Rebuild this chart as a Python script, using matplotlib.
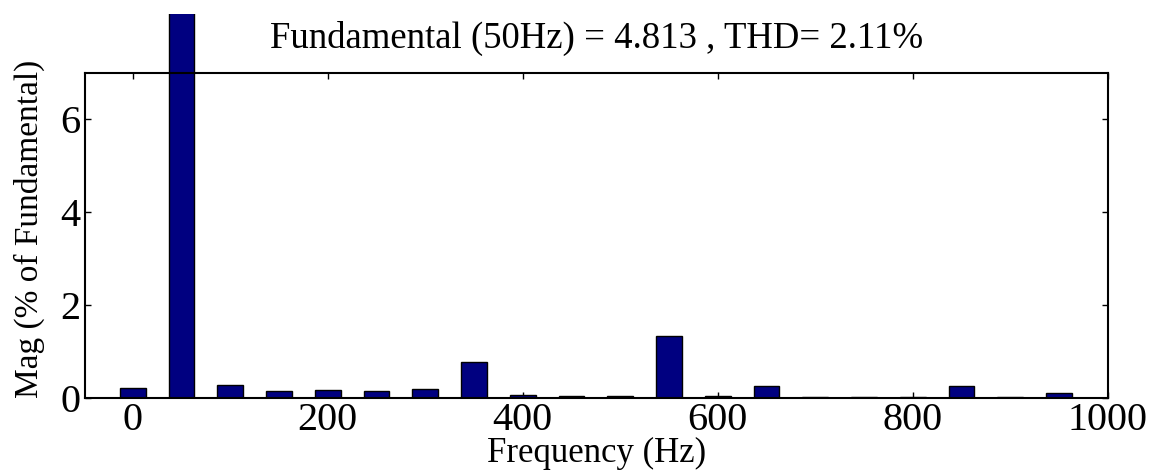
import matplotlib
matplotlib.use('Agg')
import matplotlib.pyplot as plt
from matplotlib.patches import Rectangle

plt.rcParams['font.family'] = ['Liberation Serif', 'DejaVu Serif']

#------------------DATA------------------#
# harmonic frequencies (Hz) and magnitude (% of fundamental)
freqs = [0, 50, 100, 150, 200, 250, 300, 350, 400, 450,
         500, 550, 600, 650, 700, 750, 800, 850, 900, 950]
mags = [0.21, 100.0, 0.29, 0.16, 0.18, 0.16, 0.20, 0.77, 0.06, 0.05,
        0.05, 1.33, 0.05, 0.27, 0.03, 0.03, 0.03, 0.27, 0.03, 0.11]

x_ticks = [0, 200, 400, 600, 800, 1000]
y_ticks = [0, 2, 4, 6]
title_text = "Fundamental (50Hz) = 4.813 , THD= 2.11%"

#------------------PLOT------------------#
fig = plt.figure(figsize=(11.6, 4.7), dpi=100)
ax = fig.add_axes([0.0733, 0.153, 0.8817, 0.692])

bars = ax.bar(freqs, mags, width=26.5, color='#000080',
              edgecolor='black', linewidth=1.0, zorder=2)

# the fundamental bar runs out above the axes, cut off near the figure top
clip = Rectangle((0, 0), 1, 1.18, transform=ax.transAxes, visible=False)
ax.add_patch(clip)
for b in bars:
    b.set_clip_path(clip)

ax.set_xlim(-49, 1000)
ax.set_ylim(0, 7)
ax.set_xticks(x_ticks)
ax.set_yticks(y_ticks)

ax.tick_params(direction='in', length=4, width=1, top=True, right=True,
               labelsize=29, pad=3)
for s in ax.spines.values():
    s.set_linewidth(1.5)

ax.set_xlabel("Frequency (Hz)", fontsize=25)
ax.xaxis.set_label_coords(0.5, -0.12)
ax.xaxis.label.set_va('top')
ax.set_ylabel("Mag (% of Fundamental)", fontsize=24)
ax.yaxis.set_label_coords(-0.039, 0.52)
ax.set_title(title_text, fontsize=26.5, pad=18)

fig.savefig("out.png", dpi=100)
